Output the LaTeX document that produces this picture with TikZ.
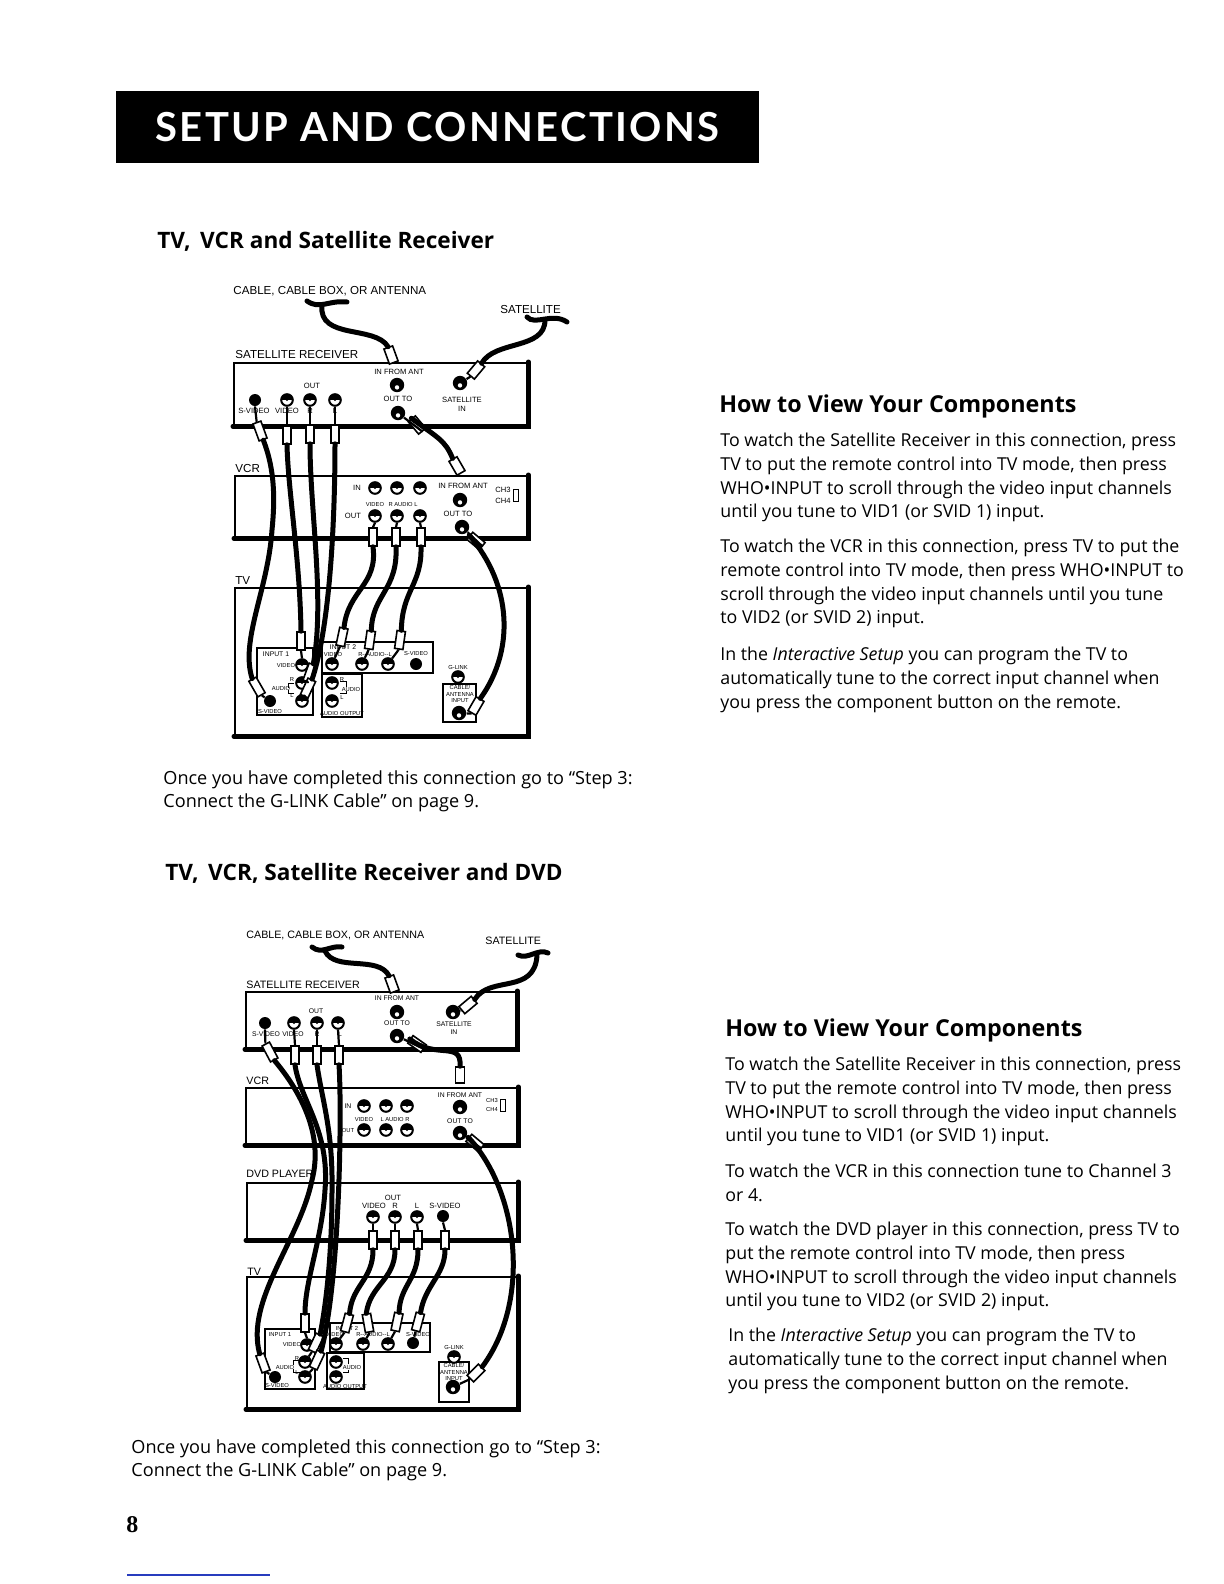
\documentclass[tikz,border=0pt]{standalone}
\usepackage{fontspec}
\setmainfont{Open Sans}
\newfontfamily\labelfont{Liberation Sans}
\newfontfamily\barfont[LetterSpace=5.9]{Lato}
\newfontfamily\pagefont{Liberation Serif}
\usepackage{xcolor}
\usetikzlibrary{fit, calc}
\definecolor{pagerule}{RGB}{40,60,190}
\tikzset{
  titlebar/.style={
    fill=black, text=white, inner sep=0pt, minimum width=321.5pt,
    minimum height=36pt, font=\barfont\bfseries\fontsize{20}{24}\selectfont
  },
  sectiontitle/.style={
    anchor=west, inner sep=0pt, font=\bfseries\fontsize{11.3}{13}\selectfont
  },
  viewtitle/.style={
    anchor=west, inner sep=0pt, font=\bfseries\fontsize{11.65}{14}\selectfont
  },
  bodytext/.style={
    anchor=north west, inner sep=0pt, align=left,
    font=\fontsize{8.9}{11.8}\selectfont
  },
  oncetext/.style={bodytext, font=\fontsize{9.05}{11.8}\selectfont},
  devicebox/.style={draw, inner sep=0pt, line width=1.2pt},
  heavyedge/.style={line width=2.3pt, line cap=round},
  portpanel/.style={draw, inner sep=0pt, line width=.9pt},
  devlabel/.style={inner sep=0pt, font=\labelfont\fontsize{5.8}{7}\selectfont},
  devlabelsmall/.style={inner sep=0pt, font=\labelfont\fontsize{5.35}{7}\selectfont},
  portlabel/.style={inner sep=0pt, align=center,
    font=\labelfont\fontsize{3.8}{4.4}\selectfont},
  portsmall/.style={inner sep=0pt, align=center,
    font=\labelfont\fontsize{3.4}{4}\selectfont},
  tinylabel/.style={inner sep=0pt, align=center,
    font=\labelfont\fontsize{2.9}{3.4}\selectfont},
  rcajack/.style={
    circle, draw, line width=1pt, fill=white, minimum size=5.8pt, inner sep=0pt,
    path picture={
      \fill[black] ([shift={(-4pt,.2pt)}]path picture bounding box.center) rectangle ++(8pt,4pt);
      \fill[black] (path picture bounding box.center) circle (.6pt);
    }
  },
  coaxjack/.style={
    circle, fill=black, minimum size=7.2pt, inner sep=0pt,
    path picture={
      \fill[white] ([yshift=-1.2pt]path picture bounding box.center) circle (1.1pt);
    }
  },
  svjack/.style={circle, fill=black, minimum size=6pt, inner sep=0pt},
  rcaplug/.style={
    draw, fill=white, line width=.8pt, minimum width=4.2pt,
    minimum height=9pt, inner sep=0pt
  },
  coaxplug/.style={
    draw, fill=white, line width=.8pt, minimum width=4.6pt,
    minimum height=8pt, inner sep=0pt,
    path picture={
      \draw[black, line width=1.1pt] ([yshift=1.6pt]path picture bounding box.north west)
        -- ([yshift=1.6pt]path picture bounding box.north east);
    }
  },
  cablewire/.style={line width=2.5pt, line cap=round},
  plugstem/.style={line width=1.1pt},
  audiobracket/.style={line width=.4pt},
  chswitch/.style={draw, inner sep=0pt, line width=.5pt,
    minimum width=2.6pt, minimum height=6pt},
}
\begin{document}
\begin{tikzpicture}[x=0.5pt, y=-0.5pt]
  \useasboundingbox (0,0) rectangle (1224,1584);

  % Page header
  \node[titlebar] (headerbar) at (437.5,127) {SETUP AND CONNECTIONS};
  \node[sectiontitle] (titleA) at (157,241) {TV,\, VCR and Satellite Receiver};
  \node[sectiontitle] (titleB) at (165,873) {TV,\, VCR, Satellite Receiver and DVD};

  % Right column, first picture
  \node[viewtitle] (viewA) at (719,406) {How to View Your Components};
  \node[bodytext] (paraA) at (720,433)
    {To watch the Satellite Receiver in this connection, press\\
     TV to put the remote control into TV mode, then press\\
     WHO\textbullet INPUT to scroll through the video input channels\\
     until you tune to VID1 (or SVID 1) input.};
  \node[bodytext] (parbA) at (720,539)
    {To watch the VCR in this connection, press TV to put the\\
     remote control into TV mode, then press WHO\textbullet INPUT to\\
     scroll through the video input channels until you tune\\
     to VID2 (or SVID 2) input.};
  \node[bodytext] (parcA) at (720,647)
    {In the \textit{Interactive Setup} you can program the TV to\\
     automatically tune to the correct input channel when\\
     you press the component button on the remote.};

  % Right column, second picture
  \node[viewtitle] (viewB) at (725,1030) {How to View Your Components};
  \node[bodytext] (paraB) at (725,1057)
    {To watch the Satellite Receiver in this connection, press\\
     TV to put the remote control into TV mode, then press\\
     WHO\textbullet INPUT to scroll through the video input channels\\
     until you tune to VID1 (or SVID 1) input.};
  \node[bodytext] (parbB) at (725,1164)
    {To watch the VCR in this connection tune to Channel 3\\
     or 4.};
  \node[bodytext] (parcB) at (725,1222)
    {To watch the DVD player in this connection, press TV to\\
     put the remote control into TV mode, then press\\
     WHO\textbullet INPUT to scroll through the video input channels\\
     until you tune to VID2 (or SVID 2) input.};
  \node[bodytext] (pardB) at (728,1328)
    {In the \textit{Interactive Setup} you can program the TV to\\
     automatically tune to the correct input channel when\\
     you press the component button on the remote.};

  % Footers
  \node[oncetext] (onceA) at (163,770)
    {Once you have completed this connection go to ``Step 3:\\
     Connect the G-LINK Cable'' on page 9.};
  \node[oncetext] (onceB) at (131,1439)
    {Once you have completed this connection go to ``Step 3:\\
     Connect the G-LINK Cable'' on page 9.};
  \node[anchor=west, inner sep=0pt, font=\pagefont\bfseries\fontsize{12}{14}\selectfont]
    (pagenum) at (126,1525) {8};
  \coordinate (ruleL) at (127,1575);
  \coordinate (ruleR) at (270,1575);
  \draw[pagerule, line width=.6pt] (ruleL) -- (ruleR);

  % ---------- First picture: devices ----------
  \node[devlabel, anchor=west] (labCableA) at (233,291) {CABLE, CABLE BOX, OR ANTENNA};
  \node[devlabel, anchor=west] (labSatA) at (500,310) {SATELLITE};
  \node[devlabel, anchor=west] (labRxA) at (235,355) {SATELLITE RECEIVER};
  \node[devlabel, anchor=west] (labVcrA) at (235,469) {VCR};
  \node[devlabel, anchor=west] (labTvA) at (235,581) {TV};

  \node[devicebox, fit={(234,363) (527,425)}] (rxA) {};
  \node[devicebox, fit={(235,476) (527,537)}] (vcrA) {};
  \node[devicebox, fit={(235,588) (527,735)}] (tvA) {};
  \draw[heavyedge] (rxA.north east) -- (rxA.south east) -- (rxA.south west);
  \draw[heavyedge] (vcrA.north east) -- (vcrA.south east) -- (vcrA.south west);
  \draw[heavyedge] (tvA.north east) -- (tvA.south east) -- (tvA.south west);

  % Satellite receiver ports
  \node[portlabel] (rxOutA) at (312,386) {OUT};
  \node[svjack] (rxSjackA) at (255,400) {};
  \node[rcajack] (rxVjackA) at (287,400) {};
  \node[rcajack] (rxRjackA) at (310,400) {};
  \node[rcajack] (rxLjackA) at (335,400) {};
  \node[portlabel] (rxSlabA) at (254,411) {S-VIDEO};
  \node[portlabel] (rxVlabA) at (287,411) {VIDEO};
  \node[portlabel] (rxRlabA) at (310,411) {R};
  \node[portlabel] (rxLlabA) at (335,411) {L};
  \node[portlabel] (rxInLabA) at (399,372) {IN FROM ANT};
  \node[coaxjack] (rxInA) at (397,385) {};
  \node[portlabel] (rxToLabA) at (398,399) {OUT TO};
  \node[coaxjack] (rxToA) at (398,413) {};
  \node[coaxjack] (rxSatA) at (460,383) {};
  \node[portlabel] (rxSatLabA) at (462,404) {SATELLITE\\IN};

  % VCR ports
  \node[portlabel] (vcrInLabA) at (357,488) {IN};
  \node[rcajack] (vcrIaA) at (375,488) {};
  \node[rcajack] (vcrIbA) at (397,488) {};
  \node[rcajack] (vcrIcA) at (420,488) {};
  \node[tinylabel] (vcrVlabA) at (375,504) {VIDEO};
  \node[tinylabel] (vcrAlabA) at (403,504) {R AUDIO L};
  \node[portlabel] (vcrOutLabA) at (353,516) {OUT};
  \node[rcajack] (vcrOaA) at (375,516) {};
  \node[rcajack] (vcrObA) at (397,516) {};
  \node[rcajack] (vcrOcA) at (420,516) {};
  \node[portlabel] (vcrAntLabA) at (463,486) {IN FROM ANT};
  \node[coaxjack] (vcrAntA) at (460,500) {};
  \node[portlabel] (vcrToLabA) at (458,514) {OUT TO};
  \node[coaxjack] (vcrToA) at (462,527) {};
  \node[portlabel] (vcrChLabA) at (503,495) {CH3\\[1pt]CH4};
  \node[chswitch] (vcrChA) at (516,495) {};

  % TV panels
  \node[portpanel, fit={(257,648) (313,715)}] (in1A) {};
  \node[portpanel, fit={(322,642) (433,673)}] (in2A) {};
  \node[portpanel, fit={(322,674) (362,717)}] (aoutA) {};
  \node[portpanel, fit={(443,684) (476,722)}] (antA) {};
  \node[portsmall] (in1LabA) at (276,654) {INPUT 1};
  \node[tinylabel] (in1VlabA) at (286,665) {VIDEO};
  \node[tinylabel] (in1AlabA) at (281,688) {AUDIO};
  \node[tinylabel] (in1RlabA) at (292,679) {R};
  \node[tinylabel] (in1LlabA) at (292,695) {L};
  \node[tinylabel] (in1SlabA) at (270,711) {S-VIDEO};
  \node[rcajack] (in1VA) at (302,665) {};
  \node[rcajack] (in1RA) at (302,683) {};
  \node[rcajack] (in1LA) at (302,701) {};
  \node[svjack] (in1SA) at (270,701) {};
  \node[portsmall] (in2LabA) at (343,647) {INPUT 2};
  \node[tinylabel] (in2VlabA) at (333,654) {VIDEO};
  \node[tinylabel] (in2AlabA) at (375,654) {R--AUDIO--L};
  \node[tinylabel] (in2SlabA) at (416,653) {S-VIDEO};
  \node[rcajack] (in2VA) at (332,664) {};
  \node[rcajack] (in2RA) at (362,664) {};
  \node[rcajack] (in2LA) at (388,664) {};
  \node[svjack] (in2SA) at (416,664) {};
  \node[rcajack] (aoutRA) at (332,683) {};
  \node[rcajack] (aoutLA) at (332,701) {};
  \node[tinylabel] (aoutAlabA) at (351,689) {AUDIO};
  \node[tinylabel] (aoutRlabA) at (342,679) {R};
  \node[tinylabel] (aoutLlabA) at (342,697) {L};
  \node[tinylabel] (aoutLabA) at (342,713) {AUDIO OUTPUT};
  \node[tinylabel] (glinkLabA) at (458,667) {G-LINK};
  \node[rcajack] (glinkA) at (458,677) {};
  \node[tinylabel] (antLabA) at (460,694) {CABLE/\\ANTENNA\\INPUT};
  \node[coaxjack] (antJackA) at (459,713) {};
  \draw[audiobracket] (294,683) -- (288,683) -- (288,688);
  \draw[audiobracket] (294,693) -- (288,693) -- (288,690);
  \draw[audiobracket] (340,681) -- (346,681) -- (346,687);
  \draw[audiobracket] (340,693) -- (346,693) -- (346,691);

  % Plugs
  \node[rcaplug, rotate=20] (rxSplugA) at (260,431) {};
  \node[rcaplug] (rxVplugA) at (287,435) {};
  \node[rcaplug] (rxRplugA) at (310,434) {};
  \node[rcaplug] (rxLplugA) at (335,434) {};
  \node[rcaplug] (vcrVplugA) at (373,537) {};
  \node[rcaplug] (vcrRplugA) at (396,537) {};
  \node[rcaplug] (vcrLplugA) at (421,537) {};
  \node[rcaplug, rotate=30] (in1SplugA) at (257,687) {};
  \node[rcaplug] (in1VplugA) at (301,641) {};
  \node[rcaplug, rotate=-20] (in1RplugA) at (310,673) {};
  \node[rcaplug, rotate=-25] (in1LplugA) at (308,688) {};
  \node[rcaplug, rotate=-12] (in2VplugA) at (342,637) {};
  \node[rcaplug, rotate=-8] (in2RplugA) at (370,640) {};
  \node[rcaplug, rotate=-8] (in2LplugA) at (400,640) {};
  \node[coaxplug, rotate=20] (antPlugA) at (391,355) {};
  \node[coaxplug, rotate=-40] (satPlugA) at (476,370) {};
  \node[coaxplug, rotate=40] (toPlugA) at (417,425) {};
  \node[coaxplug, rotate=30] (vcrAntPlugA) at (457,466) {};
  \node[coaxplug, rotate=50] (vcrToPlugA) at (476,541) {};
  \node[coaxplug, rotate=-30] (tvAntPlugA) at (476,706) {};

  % Cables
  \coordinate (antFreeA) at (307,301);
  \coordinate (antTipA) at (347,302);
  \coordinate (antForkA) at (322,305);
  \draw[cablewire] (antFreeA) .. controls (320,310) and (328,300) .. (antTipA);
  \draw[cablewire] (antForkA) .. controls (318,340) and (375,325) .. (antPlugA.north);
  \coordinate (satFreeA) at (527,317);
  \coordinate (satTipA) at (567,322);
  \coordinate (satForkA) at (545,320);
  \draw[cablewire] (satFreeA) .. controls (535,326) and (552,312) .. (satTipA);
  \draw[cablewire] (satForkA) .. controls (545,350) and (495,340) .. (satPlugA.north);
  \draw[cablewire] (toPlugA.north) .. controls (438,438) and (445,440) .. (vcrAntPlugA.north);
  \draw[cablewire] (vcrToPlugA.north) .. controls (512,585) and (515,650) .. (tvAntPlugA.north);
  \draw[cablewire] (rxSplugA.south) .. controls (275,470) and (275,500) .. (272,530)
    .. controls (268,590) and (240,640) .. (in1SplugA.north);
  \draw[cablewire] (rxVplugA.south) .. controls (288,490) and (300,560) .. (in1VplugA.north);
  \draw[cablewire] (rxRplugA.south) .. controls (310,510) and (325,600) .. (in1RplugA.north);
  \draw[cablewire] (rxLplugA.south) .. controls (335,500) and (332,620) .. (in1LplugA.north);
  \draw[cablewire] (vcrVplugA.south) .. controls (378,585) and (348,590) .. (in2VplugA.north);
  \draw[cablewire] (vcrRplugA.south) .. controls (398,590) and (372,595) .. (in2RplugA.north);
  \draw[cablewire] (vcrLplugA.south) .. controls (422,585) and (402,590) .. (in2LplugA.north);

  % Plug stems
  \draw[plugstem] (rxSjackA.south) -- (rxSplugA.north);
  \draw[plugstem] (rxVjackA.south) -- (rxVplugA.north);
  \draw[plugstem] (rxRjackA.south) -- (rxRplugA.north);
  \draw[plugstem] (rxLjackA.south) -- (rxLplugA.north);
  \draw[plugstem] (vcrOaA.south) -- (vcrVplugA.north);
  \draw[plugstem] (vcrObA.south) -- (vcrRplugA.north);
  \draw[plugstem] (vcrOcA.south) -- (vcrLplugA.north);
  \draw[plugstem] (in1VplugA.south) -- (in1VA.north);
  \draw[plugstem] (in1RplugA.south) -- (in1RA);
  \draw[plugstem] (in1LplugA.south) -- (in1LA);
  \draw[plugstem] (in2VplugA.south) -- (in2VA);
  \draw[plugstem] (in2RplugA.south) -- (in2RA);
  \draw[plugstem] (in2LplugA.south) -- (in2LA);
  \draw[plugstem] (in1SplugA.south) -- (in1SA);
  \draw[plugstem] (satPlugA.south) -- (rxSatA);
  \draw[plugstem] (toPlugA.south) -- (rxToA);
  \draw[plugstem] (vcrToPlugA.south) -- (vcrToA);
  \draw[plugstem] (tvAntPlugA.south) -- (antJackA);

  % ---------- Second picture: devices ----------
  \node[devlabelsmall, anchor=west] (labCableB) at (246,935) {CABLE, CABLE BOX, OR ANTENNA};
  \node[devlabelsmall, anchor=west] (labSatB) at (485,941) {SATELLITE};
  \node[devlabelsmall, anchor=west] (labRxB) at (246,985) {SATELLITE RECEIVER};
  \node[devlabelsmall, anchor=west] (labVcrB) at (246,1081) {VCR};
  \node[devlabelsmall, anchor=west] (labDvdB) at (246,1174) {DVD PLAYER};
  \node[devlabelsmall, anchor=west] (labTvB) at (247,1272) {TV};

  \node[devicebox, fit={(246,992) (516,1048)}] (rxB) {};
  \node[devicebox, fit={(246,1088) (517,1144)}] (vcrB) {};
  \node[devicebox, fit={(247,1183) (517,1239)}] (dvdB) {};
  \node[devicebox, fit={(247,1277) (517,1408)}] (tvB) {};
  \draw[heavyedge] (rxB.north east) -- (rxB.south east) -- (rxB.south west);
  \draw[heavyedge] (vcrB.north east) -- (vcrB.south east) -- (vcrB.south west);
  \draw[heavyedge] (dvdB.north east) -- (dvdB.south east) -- (dvdB.south west);
  \draw[heavyedge] (tvB.north east) -- (tvB.south east) -- (tvB.south west);

  % Satellite receiver ports
  \node[portsmall] (rxOutB) at (316,1011) {OUT};
  \node[svjack] (rxSjackB) at (265,1023) {};
  \node[rcajack] (rxVjackB) at (294,1023) {};
  \node[rcajack] (rxRjackB) at (317,1023) {};
  \node[rcajack] (rxLjackB) at (338,1023) {};
  \node[portsmall] (rxSlabB) at (266,1034) {S-VIDEO};
  \node[portsmall] (rxVlabB) at (293,1034) {VIDEO};
  \node[portsmall] (rxRlabB) at (317,1034) {R};
  \node[portsmall] (rxLlabB) at (340,1034) {L};
  \node[portsmall] (rxInLabB) at (397,998) {IN FROM ANT};
  \node[coaxjack] (rxInB) at (397,1012) {};
  \node[portsmall] (rxToLabB) at (397,1023) {OUT TO};
  \node[coaxjack] (rxToB) at (397,1036) {};
  \node[coaxjack] (rxSatB) at (453,1012) {};
  \node[portsmall] (rxSatLabB) at (454,1028) {SATELLITE\\IN};

  % VCR ports
  \node[portsmall] (vcrInLabB) at (348,1106) {IN};
  \node[rcajack] (vcrIaB) at (364,1106) {};
  \node[rcajack] (vcrIbB) at (386,1106) {};
  \node[rcajack] (vcrIcB) at (407,1106) {};
  \node[tinylabel] (vcrVlabB) at (364,1119) {VIDEO};
  \node[tinylabel] (vcrAlabB) at (395,1119) {L AUDIO R};
  \node[tinylabel] (vcrOutLabB) at (348,1130) {OUT};
  \node[rcajack] (vcrOaB) at (364,1130) {};
  \node[rcajack] (vcrObB) at (386,1130) {};
  \node[rcajack] (vcrOcB) at (407,1130) {};
  \node[portsmall] (vcrAntLabB) at (460,1095) {IN FROM ANT};
  \node[coaxjack] (vcrAntB) at (460,1107) {};
  \node[portsmall] (vcrToLabB) at (460,1121) {OUT TO};
  \node[coaxjack] (vcrToB) at (460,1133) {};
  \node[tinylabel] (vcrChLabB) at (492,1105) {CH3\\[1pt]CH4};
  \node[chswitch] (vcrChB) at (503,1105) {};

  % DVD ports
  \node[portlabel] (dvdOutB) at (393,1198) {OUT};
  \node[portlabel] (dvdVlabB) at (374,1206) {VIDEO};
  \node[portlabel] (dvdRlabB) at (395,1206) {R};
  \node[portlabel] (dvdLlabB) at (417,1206) {L};
  \node[portlabel] (dvdSlabB) at (445,1206) {S-VIDEO};
  \node[rcajack] (dvdVB) at (373,1217) {};
  \node[rcajack] (dvdRB) at (395,1217) {};
  \node[rcajack] (dvdLB) at (417,1217) {};
  \node[svjack] (dvdSB) at (443,1216) {};

  % TV panels
  \node[portpanel, fit={(265,1329) (315,1389)}] (in1B) {};
  \node[portpanel, fit={(330,1323) (430,1352)}] (in2B) {};
  \node[portpanel, fit={(327,1353) (364,1389)}] (aoutB) {};
  \node[portpanel, fit={(439,1362) (469,1402)}] (antB) {};
  \node[tinylabel] (in1LabB) at (280,1335) {INPUT 1};
  \node[tinylabel] (in1VlabB) at (292,1344) {VIDEO};
  \node[tinylabel] (in1AlabB) at (285,1367) {AUDIO};
  \node[tinylabel] (in1RlabB) at (297,1358) {R};
  \node[tinylabel] (in1LlabB) at (297,1372) {L};
  \node[tinylabel] (in1SlabB) at (277,1385) {S-VIDEO};
  \node[rcajack] (in1VB) at (307,1345) {};
  \node[rcajack] (in1RB) at (305,1362) {};
  \node[rcajack] (in1LB) at (305,1377) {};
  \node[svjack] (in1SB) at (275,1377) {};
  \node[tinylabel] (in2LabB) at (347,1328) {INPUT 2};
  \node[tinylabel] (in2VlabB) at (335,1334) {VIDEO};
  \node[tinylabel] (in2AlabB) at (373,1334) {R--AUDIO--L};
  \node[tinylabel] (in2SlabB) at (418,1334) {S-VIDEO};
  \node[rcajack] (in2VB) at (336,1344) {};
  \node[rcajack] (in2RB) at (363,1344) {};
  \node[rcajack] (in2LB) at (388,1344) {};
  \node[svjack] (in2SB) at (413,1343) {};
  \node[rcajack] (aoutRB) at (336,1362) {};
  \node[rcajack] (aoutLB) at (336,1377) {};
  \node[tinylabel] (aoutAlabB) at (352,1367) {AUDIO};
  \node[tinylabel] (aoutLabB) at (345,1386) {AUDIO OUTPUT};
  \node[tinylabel] (glinkLabB) at (454,1347) {G-LINK};
  \node[rcajack] (glinkB) at (454,1357) {};
  \node[tinylabel] (antLabB) at (454,1372) {CABLE/\\ANTENNA\\INPUT};
  \node[coaxjack] (antJackB) at (453,1387) {};
  \draw[audiobracket] (300,1360) -- (293,1360) -- (293,1365);
  \draw[audiobracket] (300,1372) -- (293,1372) -- (293,1369);
  \draw[audiobracket] (343,1358) -- (348,1358) -- (348,1364);
  \draw[audiobracket] (343,1372) -- (348,1372) -- (348,1370);

  % Plugs
  \node[rcaplug, rotate=28] (rxSplugB) at (270,1052) {};
  \node[rcaplug] (rxVplugB) at (295,1055) {};
  \node[rcaplug] (rxRplugB) at (317,1055) {};
  \node[rcaplug] (rxLplugB) at (339,1055) {};
  \node[rcaplug] (dvdVplugB) at (373,1240) {};
  \node[rcaplug] (dvdRplugB) at (395,1240) {};
  \node[rcaplug] (dvdLplugB) at (418,1240) {};
  \node[rcaplug] (dvdSplugB) at (445,1240) {};
  \node[rcaplug, rotate=20] (in1SplugB) at (263,1363) {};
  \node[rcaplug] (in1VplugB) at (305,1323) {};
  \node[rcaplug, rotate=-25] (in1RplugB) at (316,1343) {};
  \node[rcaplug, rotate=-25] (in1LplugB) at (317,1360) {};
  \node[rcaplug, rotate=-15] (in2VplugB) at (347,1323) {};
  \node[rcaplug, rotate=10] (in2RplugB) at (368,1323) {};
  \node[rcaplug, rotate=-12] (in2LplugB) at (397,1322) {};
  \node[rcaplug, rotate=-15] (in2SplugB) at (418,1322) {};
  \node[coaxplug, rotate=20] (antPlugB) at (392,984) {};
  \node[coaxplug, rotate=-50] (satPlugB) at (468,1005) {};
  \node[coaxplug, rotate=55] (toPlugB) at (417,1044) {};
  \node[coaxplug] (vcrAntPlugB) at (460,1075) {};
  \node[coaxplug, rotate=50] (vcrToPlugB) at (475,1143) {};
  \node[coaxplug, rotate=-45] (tvAntPlugB) at (476,1373) {};

  % Cables
  \coordinate (antFreeB) at (312,947);
  \coordinate (antTipB) at (342,947);
  \coordinate (antForkB) at (325,951);
  \draw[cablewire] (antFreeB) .. controls (322,955) and (330,945) .. (antTipB);
  \draw[cablewire] (antForkB) .. controls (335,972) and (378,955) .. (antPlugB.north);
  \coordinate (satFreeB) at (518,955);
  \coordinate (satTipB) at (548,953);
  \coordinate (satForkB) at (537,955);
  \draw[cablewire] (satFreeB) .. controls (528,960) and (538,948) .. (satTipB);
  \draw[cablewire] (satForkB) .. controls (535,995) and (490,975) .. (satPlugB.north);
  \draw[cablewire] (toPlugB.north) .. controls (435,1060) and (462,1040) .. (vcrAntPlugB.north);
  \draw[cablewire] (vcrToPlugB.north) .. controls (518,1190) and (532,1300) .. (tvAntPlugB.north);
  \draw[cablewire] (rxSplugB.south) .. controls (295,1085) and (325,1130) .. (312,1180)
    .. controls (300,1240) and (245,1300) .. (in1SplugB.north);
  \draw[cablewire] (rxVplugB.south) .. controls (300,1100) and (330,1130) .. (325,1190)
    .. controls (322,1240) and (305,1280) .. (in1VplugB.north);
  \draw[cablewire] (rxRplugB.south) .. controls (322,1100) and (333,1130) .. (332,1190)
    .. controls (332,1260) and (325,1310) .. (in1RplugB.north);
  \draw[cablewire] (rxLplugB.south) .. controls (342,1110) and (340,1280) .. (in1LplugB.north);
  \draw[cablewire] (dvdVplugB.south) .. controls (373,1280) and (352,1285) .. (in2VplugB.north);
  \draw[cablewire] (dvdRplugB.south) .. controls (395,1280) and (370,1285) .. (in2RplugB.north);
  \draw[cablewire] (dvdLplugB.south) .. controls (418,1280) and (400,1285) .. (in2LplugB.north);
  \draw[cablewire] (dvdSplugB.south) .. controls (445,1275) and (425,1285) .. (in2SplugB.north);

  % Plug stems
  \draw[plugstem] (rxSjackB.south) -- (rxSplugB.north);
  \draw[plugstem] (rxVjackB.south) -- (rxVplugB.north);
  \draw[plugstem] (rxRjackB.south) -- (rxRplugB.north);
  \draw[plugstem] (rxLjackB.south) -- (rxLplugB.north);
  \draw[plugstem] (dvdVB.south) -- (dvdVplugB.north);
  \draw[plugstem] (dvdRB.south) -- (dvdRplugB.north);
  \draw[plugstem] (dvdLB.south) -- (dvdLplugB.north);
  \draw[plugstem] (dvdSB.south) -- (dvdSplugB.north);
  \draw[plugstem] (in1VplugB.south) -- (in1VB.north);
  \draw[plugstem] (in1RplugB.south) -- (in1RB);
  \draw[plugstem] (in1LplugB.south) -- (in1LB);
  \draw[plugstem] (in2VplugB.south) -- (in2VB);
  \draw[plugstem] (in2RplugB.south) -- (in2RB);
  \draw[plugstem] (in2LplugB.south) -- (in2LB);
  \draw[plugstem] (in2SplugB.south) -- (in2SB);
  \draw[plugstem] (in1SplugB.south) -- (in1SB);
  \draw[plugstem] (satPlugB.south) -- (rxSatB);
  \draw[plugstem] (toPlugB.south) -- (rxToB);
  \draw[plugstem] (vcrToPlugB.south) -- (vcrToB);
  \draw[plugstem] (tvAntPlugB.south) -- (antJackB);
\end{tikzpicture}
\end{document}
